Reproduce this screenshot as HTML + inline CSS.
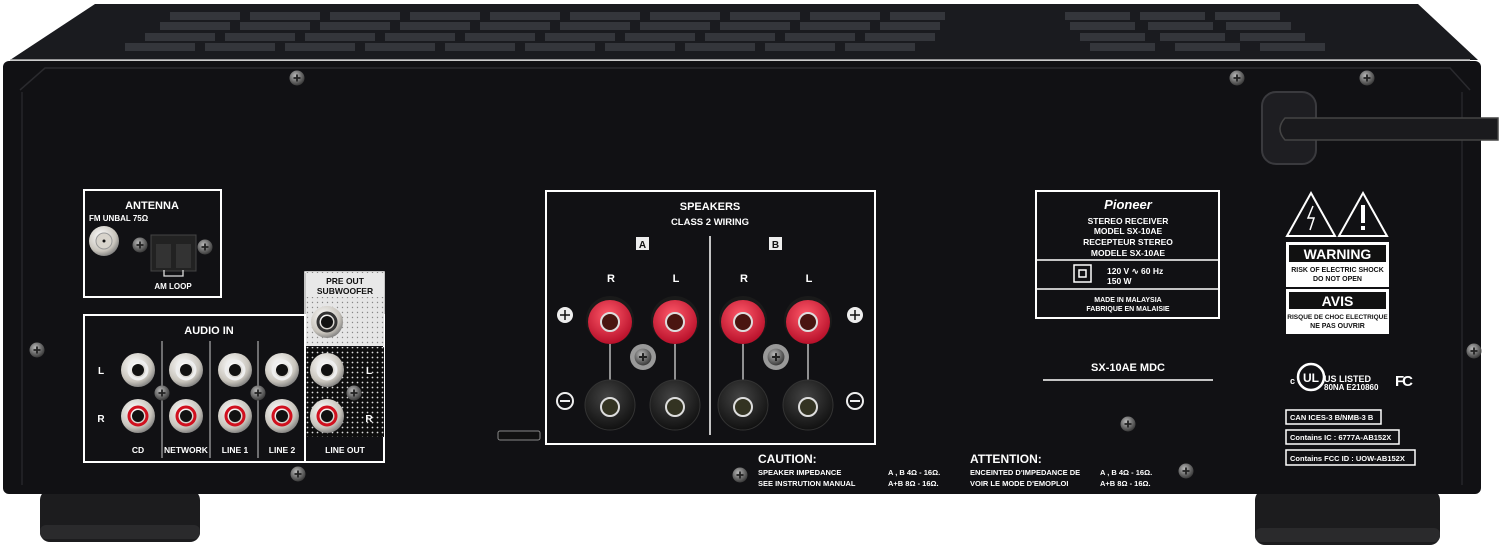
<!DOCTYPE html>
<html><head><meta charset="utf-8"><style>
html,body{margin:0;padding:0;background:#fff;}
svg{display:block;}
text{font-family:"Liberation Sans",sans-serif;font-weight:bold;fill:#fff;}
</style></head><body>
<svg width="1500" height="553" viewBox="0 0 1500 553" xmlns="http://www.w3.org/2000/svg">
<defs>
<radialGradient id="screw" cx="40%" cy="35%" r="70%"><stop offset="0" stop-color="#bbb"/><stop offset="0.6" stop-color="#666"/><stop offset="1" stop-color="#333"/></radialGradient>
<radialGradient id="rca" cx="40%" cy="35%" r="70%"><stop offset="0" stop-color="#fff"/><stop offset="0.7" stop-color="#c8c4bc"/><stop offset="1" stop-color="#777"/></radialGradient>
<radialGradient id="red" cx="45%" cy="35%" r="65%"><stop offset="0" stop-color="#ff5a6a"/><stop offset="1" stop-color="#b8102a"/></radialGradient>
<radialGradient id="blk" cx="45%" cy="35%" r="65%"><stop offset="0" stop-color="#444"/><stop offset="1" stop-color="#111"/></radialGradient>
<pattern id="dots" width="5" height="5" patternUnits="userSpaceOnUse"><rect width="5" height="5" fill="#0e0e0e"/><circle cx="2.5" cy="2.5" r="0.9" fill="#ddd"/></pattern>
<pattern id="dots2" width="5" height="5" patternUnits="userSpaceOnUse"><rect width="5" height="5" fill="#e6e6e6"/><circle cx="2.5" cy="2.5" r="0.7" fill="#888"/></pattern>
<symbol id="sc" viewBox="-8 -8 16 16"><circle r="7.5" fill="url(#screw)"/><path d="M-3.5 0H3.5M0 -3.5V3.5" stroke="#222" stroke-width="1.8"/></symbol>
</defs>
<!-- top cover -->
<path d="M95 4 L1418 4 L1478 60 L10 60 Z" fill="#1a1b1f"/>
<g fill="#34363b">
<rect x="170" y="12" width="70" height="8"/><rect x="250" y="12" width="70" height="8"/><rect x="330" y="12" width="70" height="8"/><rect x="410" y="12" width="70" height="8"/><rect x="490" y="12" width="70" height="8"/><rect x="570" y="12" width="70" height="8"/><rect x="650" y="12" width="70" height="8"/><rect x="730" y="12" width="70" height="8"/><rect x="810" y="12" width="70" height="8"/><rect x="890" y="12" width="55" height="8"/>
<rect x="160" y="22" width="70" height="8"/><rect x="240" y="22" width="70" height="8"/><rect x="320" y="22" width="70" height="8"/><rect x="400" y="22" width="70" height="8"/><rect x="480" y="22" width="70" height="8"/><rect x="560" y="22" width="70" height="8"/><rect x="640" y="22" width="70" height="8"/><rect x="720" y="22" width="70" height="8"/><rect x="800" y="22" width="70" height="8"/><rect x="880" y="22" width="60" height="8"/>
<rect x="145" y="33" width="70" height="8"/><rect x="225" y="33" width="70" height="8"/><rect x="305" y="33" width="70" height="8"/><rect x="385" y="33" width="70" height="8"/><rect x="465" y="33" width="70" height="8"/><rect x="545" y="33" width="70" height="8"/><rect x="625" y="33" width="70" height="8"/><rect x="705" y="33" width="70" height="8"/><rect x="785" y="33" width="70" height="8"/><rect x="865" y="33" width="70" height="8"/>
<rect x="125" y="43" width="70" height="8"/><rect x="205" y="43" width="70" height="8"/><rect x="285" y="43" width="70" height="8"/><rect x="365" y="43" width="70" height="8"/><rect x="445" y="43" width="70" height="8"/><rect x="525" y="43" width="70" height="8"/><rect x="605" y="43" width="70" height="8"/><rect x="685" y="43" width="70" height="8"/><rect x="765" y="43" width="70" height="8"/><rect x="845" y="43" width="70" height="8"/>
<rect x="1065" y="12" width="65" height="8"/><rect x="1140" y="12" width="65" height="8"/><rect x="1215" y="12" width="65" height="8"/>
<rect x="1070" y="22" width="65" height="8"/><rect x="1148" y="22" width="65" height="8"/><rect x="1226" y="22" width="65" height="8"/>
<rect x="1080" y="33" width="65" height="8"/><rect x="1160" y="33" width="65" height="8"/><rect x="1240" y="33" width="65" height="8"/>
<rect x="1090" y="43" width="65" height="8"/><rect x="1175" y="43" width="65" height="8"/><rect x="1260" y="43" width="65" height="8"/>
</g>
<line x1="10" y1="60" x2="1470" y2="60" stroke="#bbb" stroke-width="1.5"/>
<!-- feet -->
<rect x="40" y="490" width="160" height="52" rx="10" fill="#1c1c1e"/>
<rect x="40" y="525" width="160" height="14" rx="6" fill="#2a2a2c"/>
<rect x="1255" y="490" width="185" height="55" rx="10" fill="#1c1c1e"/>
<rect x="1255" y="528" width="185" height="14" rx="6" fill="#2a2a2c"/>
<!-- rear panel -->
<rect x="3" y="61" width="1478" height="433" rx="6" fill="#111114"/>
<path d="M20 90 L45 68 L1450 68 L1470 90" stroke="#2a2a2e" stroke-width="1.5" fill="none"/>
<line x1="22" y1="92" x2="22" y2="485" stroke="#26262a" stroke-width="1.5"/>
<line x1="1462" y1="92" x2="1462" y2="485" stroke="#26262a" stroke-width="1.5"/>
<!-- screws -->
<use href="#sc" x="289" y="70" width="16" height="16"/>
<use href="#sc" x="1229" y="70" width="16" height="16"/>
<use href="#sc" x="1359" y="70" width="16" height="16"/>
<use href="#sc" x="29" y="342" width="16" height="16"/>
<use href="#sc" x="1466" y="343" width="16" height="16"/>
<use href="#sc" x="290" y="466" width="16" height="16"/>
<use href="#sc" x="1120" y="416" width="16" height="16"/>
<use href="#sc" x="1178" y="463" width="16" height="16"/>
<use href="#sc" x="732" y="467" width="16" height="16"/>
<!-- power cord -->
<rect x="1262" y="92" width="54" height="72" rx="14" fill="#1e1e22" stroke="#3a3a3e" stroke-width="2"/>
<path d="M1285 118 L1498 118 L1498 140 L1285 140 Q1275 129 1285 118Z" fill="#1a1a1d" stroke="#444" stroke-width="1.5"/>
<!-- ANTENNA -->
<rect x="84" y="190" width="137" height="107" fill="none" stroke="#fff" stroke-width="2"/>
<text x="152" y="209" font-size="11" text-anchor="middle">ANTENNA</text>
<text x="89" y="221" font-size="8">FM UNBAL 75Ω</text>
<circle cx="104" cy="241" r="15" fill="url(#rca)"/><circle cx="104" cy="241" r="8" fill="#d8d4cc" stroke="#999"/><circle cx="104" cy="241" r="1.5" fill="#111"/>
<use href="#sc" x="132" y="237" width="16" height="16"/>
<use href="#sc" x="197" y="239" width="16" height="16"/>
<rect x="151" y="235" width="45" height="36" fill="#222" stroke="#444"/>
<rect x="156" y="244" width="15" height="24" fill="#333"/><rect x="176" y="244" width="15" height="24" fill="#333"/>
<path d="M164 270 V276 H183 V270" stroke="#ddd" fill="none" stroke-width="1.3"/>
<text x="173" y="289" font-size="8" text-anchor="middle">AM LOOP</text>
<!-- AUDIO IN -->
<rect x="84" y="315" width="300" height="147" fill="none" stroke="#fff" stroke-width="2"/>
<rect x="305" y="272" width="79" height="190" fill="none" stroke="#fff" stroke-width="1.5"/>
<rect x="306" y="272" width="78" height="74" fill="url(#dots2)"/>
<rect x="306" y="273" width="78" height="24" fill="#e8e8e8"/>
<rect x="306" y="347" width="78" height="90" fill="url(#dots)"/>
<line x1="305" y1="315" x2="305" y2="462" stroke="#fff" stroke-width="2"/>
<text x="345" y="284" font-size="8.5" style="fill:#111" text-anchor="middle">PRE OUT</text>
<text x="345" y="294" font-size="8.5" style="fill:#111" text-anchor="middle">SUBWOOFER</text>
<text x="209" y="334" font-size="11" text-anchor="middle">AUDIO IN</text>
<text x="101" y="374" font-size="10" text-anchor="middle">L</text>
<text x="101" y="422" font-size="10" text-anchor="middle">R</text>
<g stroke="#ccc" stroke-width="1"><line x1="162" y1="341" x2="162" y2="458"/><line x1="210" y1="341" x2="210" y2="458"/><line x1="258" y1="341" x2="258" y2="458"/></g>
<g>
<circle cx="138" cy="370" r="17" fill="url(#rca)"/><circle cx="138" cy="370" r="6" fill="#111"/><circle cx="138" cy="370" r="9" fill="none" stroke="#eee" stroke-width="3"/>
<circle cx="186" cy="370" r="17" fill="url(#rca)"/><circle cx="186" cy="370" r="6" fill="#111"/><circle cx="186" cy="370" r="9" fill="none" stroke="#eee" stroke-width="3"/>
<circle cx="235" cy="370" r="17" fill="url(#rca)"/><circle cx="235" cy="370" r="6" fill="#111"/><circle cx="235" cy="370" r="9" fill="none" stroke="#eee" stroke-width="3"/>
<circle cx="282" cy="370" r="17" fill="url(#rca)"/><circle cx="282" cy="370" r="6" fill="#111"/><circle cx="282" cy="370" r="9" fill="none" stroke="#eee" stroke-width="3"/>
<circle cx="327" cy="370" r="17" fill="url(#rca)"/><circle cx="327" cy="370" r="6" fill="#111"/><circle cx="327" cy="370" r="9" fill="none" stroke="#eee" stroke-width="3"/>
<circle cx="327" cy="322" r="16" fill="url(#rca)"/><circle cx="327" cy="322" r="6" fill="#111"/><circle cx="327" cy="322" r="9" fill="none" stroke="#333" stroke-width="3"/>
<circle cx="138" cy="416" r="17" fill="url(#rca)"/><circle cx="138" cy="416" r="6" fill="#111"/><circle cx="138" cy="416" r="9" fill="none" stroke="#d0101e" stroke-width="3"/>
<circle cx="186" cy="416" r="17" fill="url(#rca)"/><circle cx="186" cy="416" r="6" fill="#111"/><circle cx="186" cy="416" r="9" fill="none" stroke="#d0101e" stroke-width="3"/>
<circle cx="235" cy="416" r="17" fill="url(#rca)"/><circle cx="235" cy="416" r="6" fill="#111"/><circle cx="235" cy="416" r="9" fill="none" stroke="#d0101e" stroke-width="3"/>
<circle cx="282" cy="416" r="17" fill="url(#rca)"/><circle cx="282" cy="416" r="6" fill="#111"/><circle cx="282" cy="416" r="9" fill="none" stroke="#d0101e" stroke-width="3"/>
<circle cx="327" cy="416" r="17" fill="url(#rca)"/><circle cx="327" cy="416" r="6" fill="#111"/><circle cx="327" cy="416" r="9" fill="none" stroke="#d0101e" stroke-width="3"/>
</g>
<use href="#sc" x="154" y="385" width="16" height="16"/>
<use href="#sc" x="250" y="385" width="16" height="16"/>
<use href="#sc" x="346" y="385" width="16" height="16"/>
<text x="369" y="374" font-size="10" text-anchor="middle">L</text>
<text x="369" y="422" font-size="10" text-anchor="middle">R</text>
<text x="138" y="453" font-size="8.5" text-anchor="middle">CD</text>
<text x="186" y="453" font-size="8.5" text-anchor="middle">NETWORK</text>
<text x="235" y="453" font-size="8.5" text-anchor="middle">LINE 1</text>
<text x="282" y="453" font-size="8.5" text-anchor="middle">LINE 2</text>
<text x="345" y="453" font-size="8.5" text-anchor="middle">LINE OUT</text>
<!-- usb slot -->
<rect x="498" y="431" width="42" height="9" rx="2" fill="#111" stroke="#888"/>
<!-- SPEAKERS -->
<rect x="546" y="191" width="329" height="253" fill="none" stroke="#fff" stroke-width="2"/>
<line x1="710" y1="236" x2="710" y2="435" stroke="#fff" stroke-width="1.5"/>
<text x="710" y="210" font-size="11" text-anchor="middle">SPEAKERS</text>
<text x="710" y="225" font-size="9.5" text-anchor="middle">CLASS 2 WIRING</text>
<rect x="636" y="237" width="13" height="13" fill="#eee"/><text x="642.5" y="248" font-size="10" style="fill:#111" text-anchor="middle">A</text>
<rect x="769" y="237" width="13" height="13" fill="#eee"/><text x="775.5" y="248" font-size="10" style="fill:#111" text-anchor="middle">B</text>
<text x="611" y="282" font-size="11" text-anchor="middle">R</text><text x="676" y="282" font-size="11" text-anchor="middle">L</text>
<text x="744" y="282" font-size="11" text-anchor="middle">R</text><text x="809" y="282" font-size="11" text-anchor="middle">L</text>
<g stroke="#bbb" stroke-width="1.5"><line x1="610" y1="340" x2="610" y2="390"/><line x1="675" y1="340" x2="675" y2="390"/><line x1="743" y1="340" x2="743" y2="390"/><line x1="808" y1="340" x2="808" y2="390"/></g>
<g>
<circle cx="610" cy="320" r="24" fill="#1a1a1a"/><circle cx="610" cy="322" r="22" fill="url(#red)"/><circle cx="610" cy="322" r="9" fill="#4a1510" stroke="#ddd" stroke-width="2"/>
<circle cx="675" cy="320" r="24" fill="#1a1a1a"/><circle cx="675" cy="322" r="22" fill="url(#red)"/><circle cx="675" cy="322" r="9" fill="#4a1510" stroke="#ddd" stroke-width="2"/>
<circle cx="743" cy="320" r="24" fill="#1a1a1a"/><circle cx="743" cy="322" r="22" fill="url(#red)"/><circle cx="743" cy="322" r="9" fill="#4a1510" stroke="#ddd" stroke-width="2"/>
<circle cx="808" cy="320" r="24" fill="#1a1a1a"/><circle cx="808" cy="322" r="22" fill="url(#red)"/><circle cx="808" cy="322" r="9" fill="#4a1510" stroke="#ddd" stroke-width="2"/>
<circle cx="610" cy="405" r="25" fill="url(#blk)" stroke="#333"/><circle cx="610" cy="407" r="9" fill="#333322" stroke="#ddd" stroke-width="2"/>
<circle cx="675" cy="405" r="25" fill="url(#blk)" stroke="#333"/><circle cx="675" cy="407" r="9" fill="#333322" stroke="#ddd" stroke-width="2"/>
<circle cx="743" cy="405" r="25" fill="url(#blk)" stroke="#333"/><circle cx="743" cy="407" r="9" fill="#333322" stroke="#ddd" stroke-width="2"/>
<circle cx="808" cy="405" r="25" fill="url(#blk)" stroke="#333"/><circle cx="808" cy="407" r="9" fill="#333322" stroke="#ddd" stroke-width="2"/>
</g>
<circle cx="643" cy="357" r="13" fill="#999"/><use href="#sc" x="634" y="348" width="18" height="18"/>
<circle cx="776" cy="357" r="13" fill="#999"/><use href="#sc" x="767" y="348" width="18" height="18"/>
<g>
<circle cx="565" cy="315" r="8" fill="#eee"/><path d="M560 315H570M565 310V320" stroke="#111" stroke-width="1.5"/>
<circle cx="855" cy="315" r="8" fill="#eee"/><path d="M850 315H860M855 310V320" stroke="#111" stroke-width="1.5"/>
<circle cx="565" cy="401" r="8" fill="none" stroke="#eee" stroke-width="2"/><path d="M560 401H570" stroke="#eee" stroke-width="2"/>
<circle cx="855" cy="401" r="8" fill="none" stroke="#eee" stroke-width="2"/><path d="M850 401H860" stroke="#eee" stroke-width="2"/>
</g>
<!-- caution -->
<text x="758" y="463" font-size="12">CAUTION:</text>
<text x="758" y="475" font-size="7.5">SPEAKER IMPEDANCE</text>
<text x="758" y="486" font-size="7.5">SEE INSTRUTION MANUAL</text>
<text x="888" y="475" font-size="7.5">A , B    4Ω - 16Ω.</text>
<text x="888" y="486" font-size="7.5">A+B    8Ω - 16Ω.</text>
<text x="970" y="463" font-size="12">ATTENTION:</text>
<text x="970" y="475" font-size="7.5">ENCEINTED D'IMPEDANCE DE</text>
<text x="970" y="486" font-size="7.5">VOIR LE MODE D'EMOPLOI</text>
<text x="1100" y="475" font-size="7.5">A , B    4Ω - 16Ω.</text>
<text x="1100" y="486" font-size="7.5">A+B    8Ω - 16Ω.</text>
<!-- pioneer label -->
<rect x="1036" y="191" width="183" height="127" fill="none" stroke="#fff" stroke-width="2"/>
<line x1="1036" y1="260" x2="1219" y2="260" stroke="#fff" stroke-width="1.5"/>
<line x1="1036" y1="289" x2="1219" y2="289" stroke="#fff" stroke-width="1.5"/>
<text x="1128" y="209" font-size="13" font-style="italic" text-anchor="middle">Pioneer</text>
<text x="1128" y="224" font-size="8.5" text-anchor="middle">STEREO RECEIVER</text>
<text x="1128" y="234" font-size="8.5" text-anchor="middle">MODEL  SX-10AE</text>
<text x="1128" y="245" font-size="8.5" text-anchor="middle">RECEPTEUR STEREO</text>
<text x="1128" y="256" font-size="8.5" text-anchor="middle">MODELE  SX-10AE</text>
<rect x="1074" y="265" width="17" height="17" fill="none" stroke="#fff" stroke-width="1.5"/><rect x="1079" y="270" width="7" height="7" fill="none" stroke="#fff" stroke-width="1.5"/>
<text x="1107" y="274" font-size="8.5">120 V ∿   60 Hz</text>
<text x="1107" y="284" font-size="8.5">150 W</text>
<text x="1128" y="302" font-size="7" text-anchor="middle">MADE IN MALAYSIA</text>
<text x="1128" y="311" font-size="7" text-anchor="middle">FABRIQUE EN MALAISIE</text>
<text x="1128" y="371" font-size="11" font-weight="normal" text-anchor="middle">SX-10AE MDC</text>
<line x1="1043" y1="380" x2="1213" y2="380" stroke="#fff" stroke-width="1.5"/>
<!-- warnings -->
<path d="M1311 193 L1335 236 L1287 236Z" fill="none" stroke="#fff" stroke-width="2"/>
<path d="M1313 206 L1308 218 L1314 218 L1310 230" stroke="#fff" fill="none" stroke-width="1.5"/>
<path d="M1363 193 L1387 236 L1339 236Z" fill="none" stroke="#fff" stroke-width="2"/>
<rect x="1361" y="205" width="4" height="18" fill="#fff"/><rect x="1361" y="226" width="4" height="4" fill="#fff"/>
<rect x="1286" y="242" width="103" height="45" fill="#fff"/><rect x="1289" y="245" width="97" height="17" fill="#111"/>
<text x="1337.5" y="259" font-size="14" text-anchor="middle">WARNING</text>
<text x="1337.5" y="272" font-size="7" style="fill:#111" text-anchor="middle">RISK OF ELECTRIC SHOCK</text>
<text x="1337.5" y="281" font-size="7" style="fill:#111" text-anchor="middle">DO NOT OPEN</text>
<rect x="1286" y="289" width="103" height="45" fill="#fff"/><rect x="1289" y="292" width="97" height="17" fill="#111"/>
<text x="1337.5" y="306" font-size="14" text-anchor="middle">AVIS</text>
<text x="1337.5" y="319" font-size="6.5" style="fill:#111" text-anchor="middle">RISQUE DE CHOC ELECTRIQUE</text>
<text x="1337.5" y="328" font-size="7" style="fill:#111" text-anchor="middle">NE PAS OUVRIR</text>
<!-- UL / FC -->
<text x="1290" y="384" font-size="9">c</text>
<circle cx="1311" cy="377" r="13" fill="none" stroke="#fff" stroke-width="2.5"/>
<text x="1311" y="382" font-size="12" text-anchor="middle">UL</text>
<text x="1324" y="382" font-size="9">US LISTED</text>
<text x="1324" y="390" font-size="8">80NA E210860</text>
<text x="1395" y="386" font-size="15" letter-spacing="-2">FC</text>
<!-- id boxes -->
<rect x="1286" y="410" width="95" height="14" fill="none" stroke="#fff" stroke-width="1.5"/>
<text x="1290" y="420" font-size="7.5">CAN ICES-3 B/NMB-3 B</text>
<rect x="1286" y="430" width="113" height="14" fill="none" stroke="#fff" stroke-width="1.5"/>
<text x="1290" y="440" font-size="7.5">Contains IC : 6777A-AB152X</text>
<rect x="1286" y="450" width="129" height="15" fill="none" stroke="#fff" stroke-width="1.5"/>
<text x="1290" y="461" font-size="7.5">Contains FCC ID : UOW-AB152X</text>
</svg>
</body></html>
